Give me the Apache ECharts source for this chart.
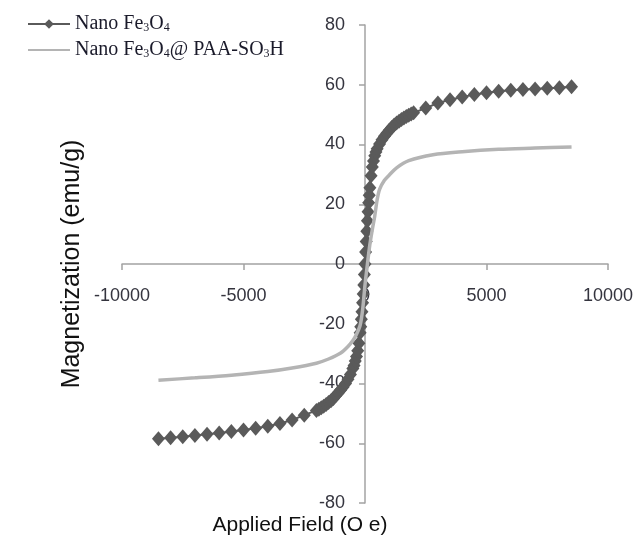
<!DOCTYPE html>
<html>
<head>
<meta charset="utf-8">
<script src="https://cdn.jsdelivr.net/npm/echarts@6/dist/echarts.min.js"></script>
<style>
  html, body { margin: 0; padding: 0; background: #fff; }
  #main { width: 638px; height: 542px; }
</style>
</head>
<body>
<div id="main"></div>
<script>
var seriesNames = ['Nano Fe3O4', 'Nano Fe3O4@ PAA-SO3H'];

// Nano Fe3O4 (diamond markers), Oe -> emu/g
var fieldFe = [-8500, -8000, -7500, -7000, -6500, -6000, -5500, -5000, -4500, -4000, -3500, -3000, -2500,
    -2000, -1900, -1800, -1700, -1600, -1500, -1400, -1300, -1200, -1100, -1000, -900, -800, -700, -600,
    -500, -450, -400, -350, -300, -250, -200, -175, -150, -125, -100, -75, -50, -25, 0,
    25, 50, 75, 100, 125, 150, 175, 200, 250, 300, 350, 400, 450, 500,
    600, 700, 800, 900, 1000, 1100, 1200, 1300, 1400, 1500, 1600, 1700, 1800, 1900, 2000,
    2500, 3000, 3500, 4000, 4500, 5000, 5500, 6000, 6500, 7000, 7500, 8000, 8500];
var magFe = [-58.5, -58.2, -57.8, -57.4, -57.0, -56.6, -56.1, -55.6, -55.0, -54.3, -53.4, -52.2, -50.6,
    -49.0, -48.6, -48.1, -47.6, -47.0, -46.4, -45.8, -45.0, -44.0, -43.1, -42.2, -41.2, -40.0, -38.6, -37.0,
    -35.0, -34.0, -32.5, -31.0, -29.0, -26.5, -23.0, -21.0, -18.5, -16.0, -13.0, -10.0, -7.0, -3.5, 0,
    4, 7.5, 11, 14.5, 17.5, 20.5, 23, 25.5, 29.5, 32.5, 34.5, 36.2, 37.5, 38.6,
    40.2, 41.6, 42.8, 43.8, 44.8, 45.7, 46.5, 47.2, 47.8, 48.4, 48.9, 49.4, 49.8, 50.2, 50.6,
    52.2, 53.9, 55.0, 55.9, 56.7, 57.3, 57.8, 58.2, 58.4, 58.6, 58.8, 59.0, 59.3];

// Nano Fe3O4@PAA-SO3H (plain line)
var fieldPAA = [-8500, -7000, -5500, -4000, -3000, -2000, -1500, -1000, -700, -500, -350, -200, -100, 0,
    100, 200, 300, 400, 500, 600, 800, 1000, 1300, 1800, 2800, 4000, 5500, 7000, 8500];
var magPAA = [-38.9, -38.1, -37.2, -36.0, -34.8, -33.2, -31.8, -29.8, -27.6, -25.6, -23.5, -20.5, -15.5, -7,
    0, 6.5, 11.5, 16, 21.5, 25, 28, 29.8, 32.2, 34.6, 36.6, 37.6, 38.4, 38.8, 39.2];

var xMin = -10000, xMax = 10000, xStep = 5000;
var yMin = -80, yMax = 80, yStep = 20;

var myChart = echarts.init(document.getElementById('main'), null, { renderer: 'canvas' });

function pairs(xs, ys) {
    return xs.map(function (x, i) { return [x, ys[i]]; });
}

var gridLeft = 122, gridRight = 30, gridTop = 25, gridBottom = 39;
var W = 638, H = 542;
// axes cross at (0, 0): move them into the plot with a negative offset
var xAxisOffset = -((H - gridTop - gridBottom) / 2);
var yAxisOffset = -((W - gridLeft - gridRight) / 2);

var axisGray = '#a3a3a3';
var labelColor = '#34343e';

var option = {
    animation: false,
    grid: { left: gridLeft, right: gridRight, top: gridTop, bottom: gridBottom, containLabel: false, outerBoundsMode: 'none' },
    legend: {
        orient: 'vertical',
        left: 22,
        top: 9,
        itemWidth: 42,
        itemHeight: 12,
        itemGap: 6,
        data: [
            { name: seriesNames[0] },
            { name: seriesNames[1], itemStyle: { opacity: 0 } }
        ],
        formatter: function (name) {
            // subscripts for the chemical formulas
            return name.replace(/(\d)/g, '{s|$1}');
        },
        textStyle: {
            fontFamily: 'Liberation Serif',
            fontSize: 20,
            color: '#1a1a2a',
            rich: {
                s: { fontFamily: 'Liberation Serif', fontSize: 12, verticalAlign: 'bottom', lineHeight: 15, color: '#1a1a2a' }
            }
        }
    },
    xAxis: {
        type: 'value',
        min: xMin,
        max: xMax,
        interval: xStep,
        offset: xAxisOffset,
        name: 'Applied Field (O e)',
        nameLocation: 'middle',
        nameGap: 251,
        // title sits a little left of the plot centre
        nameTextStyle: { fontFamily: 'Liberation Sans', fontSize: 21, color: '#111', padding: [0, 130, 0, 0] },
        axisLine: { onZero: false, lineStyle: { color: axisGray, width: 1.5 } },
        axisTick: { show: true, length: 6, lineStyle: { color: axisGray, width: 1.5 } },
        axisLabel: {
            margin: 23, fontFamily: 'Liberation Sans', fontSize: 18, color: labelColor,
            formatter: function (v) { return String(v); }
        },
        splitLine: { show: false }
    },
    yAxis: {
        type: 'value',
        min: yMin,
        max: yMax,
        interval: yStep,
        offset: yAxisOffset,
        name: 'Magnetization (emu/g)',
        nameLocation: 'middle',
        nameGap: 280,
        nameTextStyle: { fontFamily: 'Liberation Sans', fontSize: 25, color: '#111' },
        axisLine: { show: true, onZero: false, lineStyle: { color: axisGray, width: 1.5 } },
        axisTick: { show: true, length: 6, lineStyle: { color: axisGray, width: 1.5 } },
        axisLabel: { margin: 20, fontFamily: 'Liberation Sans', fontSize: 18, color: labelColor },
        splitLine: { show: false }
    },
    series: [
        {
            name: seriesNames[0],
            type: 'line',
            data: pairs(fieldFe, magFe),
            symbol: 'diamond',
            symbolSize: [13, 15],
            showAllSymbol: true,
            itemStyle: { color: '#5a5a5a' },
            lineStyle: { color: '#5a5a5a', width: 2 },
            z: 2
        },
        {
            name: seriesNames[1],
            type: 'line',
            data: pairs(fieldPAA, magPAA),
            symbol: 'none',
            smooth: 0.3,
            itemStyle: { color: '#b4b4b4' },
            lineStyle: { color: '#b4b4b4', width: 3.5 },
            z: 3
        }
    ]
};

myChart.setOption(option);
</script>
</body>
</html>
